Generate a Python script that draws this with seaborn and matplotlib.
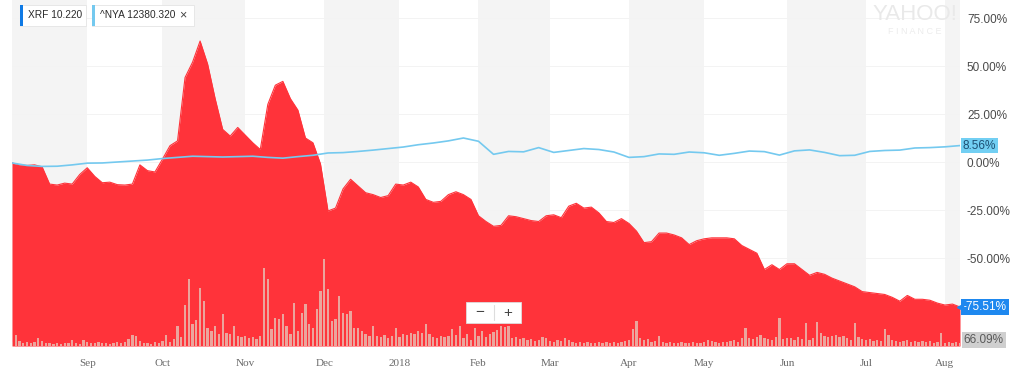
import numpy as np
import pandas as pd
import matplotlib
matplotlib.use('Agg')
import matplotlib.pyplot as plt
from matplotlib.patches import Rectangle
import seaborn as sns

## --- dados (eixo x = pregoes desde 04/08/2017)
# XRF, variacao % a cada 2 pregoes
xrf_pct = [-0.5, -1.5, -1.8, -1.5, -2.5, -11.5, -12, -11, -11.5, -6.5,
           -3, -7.5, -10.8, -10.5, -11.8, -12, -11.5, -1.5, -4.5, -5.2,
           1.5, 8.5, 11, 44, 52, 63, 51, 33, 17, 13.5,
           18, 14, 10, 6.5, 30, 40, 42, 33, 27, 12.5,
           10, -1, -25.5, -24, -14, -9, -12.5, -16, -17, -18.5,
           -17.5, -11.5, -12, -10.5, -13, -19.5, -21, -20.5, -17, -15.5,
           -17, -19.5, -28, -31, -33.5, -33, -28, -28.5, -29.5, -30.5,
           -31, -28, -27.5, -29, -23, -21.5, -24, -23.5, -26.5, -31,
           -31.5, -29.5, -32, -36, -42, -41.5, -37, -37, -38, -39.5,
           -43, -41, -40, -39.5, -39.5, -39.5, -40, -43.5, -45.5, -47.5,
           -56, -53.5, -56, -53, -53, -56, -59, -57.5, -58.5, -60.5,
           -62, -63.5, -65, -67.5, -68, -68.5, -69, -70.5, -72.5, -69.5,
           -71.5, -71.5, -72, -73.5, -74.5, -74, -75.51]

# ^NYA, variacao % a cada 4 pregoes
nya_pct = [-0.5, -1.8, -2.3, -2.2, -1.5, -0.6, -0.5, 0, 0.5, 1,
           1.8, 2.4, 3, 2.8, 2.6, 2.8, 3, 2.4, 2, 2.8,
           3.5, 4.7, 4.9, 5.5, 6.2, 7, 7.8, 9, 9.9, 11,
           12.5, 10.8, 4, 5.5, 5.3, 7.5, 5, 6, 7, 6.5,
           5.2, 2.4, 2.8, 4.2, 4, 5.2, 4.8, 3.5, 4.5, 5.7,
           5.4, 3.6, 5.8, 6.3, 5, 3.3, 3.5, 5.5, 6, 6.2,
           7.3, 7.5, 7.9, 8.56]

# volume diario do XRF (unidades relativas)
volume = [4, 11, 5, 3, 4, 3, 4, 8, 5, 3,
          3, 2, 3, 2, 3, 3, 6, 3, 2, 6,
          4, 3, 3, 4, 3, 3, 2, 3, 4, 3,
          4, 7, 11, 10, 5, 3, 3, 2, 4, 3,
          5, 11, 4, 7, 20, 9, 41, 67, 22, 26,
          58, 45, 18, 15, 20, 12, 32, 13, 12, 20,
          10, 9, 10, 8, 9, 7, 10, 78, 67, 17,
          28, 27, 32, 20, 12, 43, 15, 33, 42, 22,
          18, 37, 55, 87, 57, 25, 27, 50, 33, 32,
          35, 18, 18, 15, 12, 10, 20, 10, 9, 11,
          8, 10, 18, 9, 12, 11, 13, 12, 15, 13,
          22, 12, 9, 8, 10, 9, 10, 17, 11, 20,
          8, 12, 6, 18, 10, 15, 9, 12, 14, 16,
          20, 19, 20, 8, 9, 7, 8, 6, 7, 5,
          6, 9, 8, 5, 4, 6, 5, 8, 6, 4,
          3, 4, 3, 4, 3, 3, 4, 3, 4, 3,
          4, 3, 4, 5, 6, 17, 25, 8, 6, 7,
          4, 5, 10, 4, 3, 4, 3, 3, 4, 3,
          3, 4, 3, 3, 4, 6, 5, 4, 3, 4,
          4, 5, 6, 4, 8, 18, 8, 7, 9, 11,
          8, 7, 6, 9, 28, 7, 8, 8, 6, 9,
          7, 23, 6, 8, 24, 13, 10, 9, 10, 11,
          9, 10, 8, 6, 23, 9, 7, 6, 7, 5,
          6, 5, 17, 11, 6, 5, 4, 5, 6, 4,
          5, 4, 5, 4, 5, 3, 4, 13, 3, 4,
          3, 4, 3]

mes_labels = ['Sep', 'Oct', 'Nov', 'Dec', '2018', 'Feb', 'Mar', 'Apr', 'May', 'Jun', 'Jul', 'Aug']
mes_pos = [20, 40, 62, 83, 103, 124, 143, 164, 184, 206, 227, 248]
y_ticks = [75, 50, 25, 0, -25, -50]

df_xrf = pd.DataFrame({'dia': np.arange(len(xrf_pct)) * 2, 'pct': xrf_pct})
df_nya = pd.DataFrame({'dia': np.arange(len(nya_pct)) * 4, 'pct': nya_pct})
df_vol = pd.DataFrame({'dia': np.arange(len(volume)), 'volume': volume})

## --- estilo
sns.set_style('white')
plt.rcParams['font.family'] = ['Liberation Sans', 'DejaVu Sans']

VERMELHO = '#ff333a'
AZUL_CLARO = '#74c9ef'
X_MAX = 252
Y_MIN, Y_MAX = -95.83, 84.375

fig = plt.figure(figsize=(10.24, 3.72), dpi=100)
ax = fig.add_axes([12 / 1024, 26 / 372, 948 / 1024, 346 / 372])

# faixas cinza alternando por mes
bordas = [0] + mes_pos + [X_MAX]
for k in range(0, len(bordas) - 1, 2):
    ax.axvspan(bordas[k], bordas[k + 1], color='#f4f4f4', lw=0, zorder=0)

for t in y_ticks:
    ax.axhline(t, color='#f3f3f3', lw=0.7, zorder=0.5)

# area do XRF
ax.fill_between(df_xrf['dia'], df_xrf['pct'], Y_MIN, color=VERMELHO, lw=0, zorder=2)
sns.lineplot(data=df_xrf, x='dia', y='pct', color=VERMELHO, lw=0.8, ax=ax, zorder=2)

# linha do ^NYA
sns.lineplot(data=df_nya, x='dia', y='pct', color=AZUL_CLARO, lw=1.2, ax=ax, zorder=4)

# volume num eixo gemeo
ax2 = ax.twinx()
ax2.bar(df_vol['dia'], df_vol['volume'], width=0.6, color='#eba59d', lw=0, zorder=3)
ax2.set_ylim(0, 346)
ax2.set_yticks([])
ax2.set_ylabel('')
for s in ax2.spines.values():
    s.set_visible(False)

ax.set_xlim(0, X_MAX)
ax.set_ylim(Y_MIN, Y_MAX)
ax.set_xlabel('')
ax.set_ylabel('')
for s in ax.spines.values():
    s.set_visible(False)

ax.yaxis.tick_right()
ax.set_yticks(y_ticks)
ax.set_yticklabels([f'{v:.2f}%' for v in y_ticks])
ax.tick_params(axis='y', length=0, pad=5, labelsize=8.5, labelcolor='#4a4a4a')
ax.set_xticks(mes_pos)
ax.set_xticklabels(mes_labels)
ax.tick_params(axis='x', length=0, pad=9, labelsize=8, labelcolor='#6a6a6a')
for lbl in ax.get_xticklabels():
    lbl.set_fontfamily('Liberation Serif')

# etiquetas do lado direito
tr = ax.get_yaxis_transform()
ax.text(1.003, nya_pct[-1], f'{nya_pct[-1]:.2f}%', transform=tr, fontsize=8.5, color='#1d4f73',
        va='center', ha='left', clip_on=False,
        bbox=dict(boxstyle='square,pad=0.15', fc='#72cff3', ec='none'))
ax.plot([1.0], [xrf_pct[-1]], marker='<', ms=5, color='#1e88ef', transform=tr, clip_on=False, zorder=6)
ax.text(1.003, xrf_pct[-1], f'{xrf_pct[-1]:.2f}%', transform=tr, fontsize=8.5, color='white',
        va='center', ha='left', clip_on=False,
        bbox=dict(boxstyle='square,pad=0.15', fc='#1e88ef', ec='none'))
ax.text(1.004, -92.7, '66.09%', transform=tr, fontsize=8.5, color='#5a5a5a',
        va='center', ha='left', clip_on=False,
        bbox=dict(boxstyle='square,pad=0.15', fc='#cfcfcf', ec='none'))


def fx(px):
    return px / 1024


def fy(py):
    return 1 - py / 372


# legenda no topo
for x0, x1, cor, txt in [(20, 86, '#0f7ae5', 'XRF 10.220'),
                         (92, 194, AZUL_CLARO, '^NYA 12380.320')]:
    fig.patches.append(Rectangle((fx(x0), fy(26)), fx(x1 - x0), 21 / 372, transform=fig.transFigure,
                                 fc='white', ec='#e4e4e4', lw=0.6, zorder=10))
    fig.patches.append(Rectangle((fx(x0), fy(26)), fx(3), 21 / 372, transform=fig.transFigure,
                                 fc=cor, ec='none', zorder=11))
    fig.text(fx(x0 + 8), fy(15.5), txt, fontsize=7.3, color='#2a2a2a', va='center', ha='left', zorder=12)
fig.text(fx(183), fy(15.5), '×', fontsize=9, color='#444444', va='center', ha='center', zorder=12)

# marca d'agua
fig.text(fx(915), fy(14), 'YAHOO!', fontsize=16, color='#e9e9e9', va='center', ha='center')
fig.text(fx(915), fy(31), 'F I N A N C E', fontsize=6.5, color='#ececec', va='center', ha='center')

# botoes de zoom
fig.patches.append(Rectangle((fx(466), fy(323)), fx(55), 21 / 372, transform=fig.transFigure,
                             fc='white', ec='#dddddd', lw=0.6, zorder=10))
fig.lines.append(plt.Line2D([fx(494), fx(494)], [fy(320), fy(305)], transform=fig.transFigure,
                            color='#dddddd', lw=0.8, zorder=11))
fig.text(fx(480), fy(312.5), '−', fontsize=11, color='#444444', va='center', ha='center', zorder=12)
fig.text(fx(508), fy(312.5), '+', fontsize=11, color='#444444', va='center', ha='center', zorder=12)

plt.savefig('out.png', dpi=100)
